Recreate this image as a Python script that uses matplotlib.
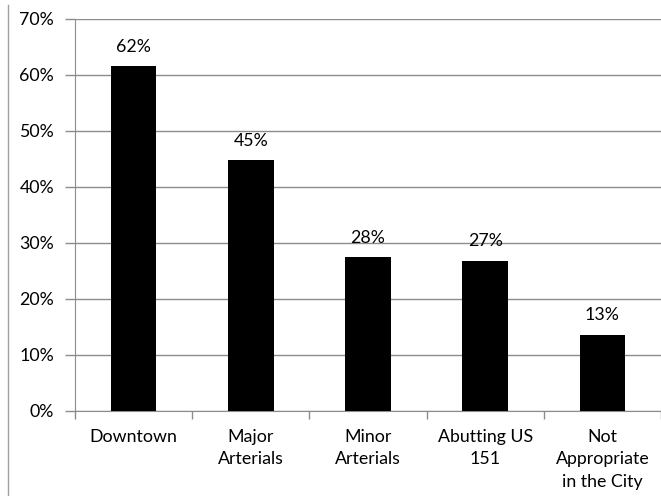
import matplotlib.pyplot as plt
from matplotlib.lines import Line2D

# values
categories = ["Downtown", "Major\nArterials", "Minor\nArterials", "Abutting US\n151", "Not\nAppropriate\nin the City"]
shares = [61.5, 44.7, 27.5, 26.8, 13.6]
bar_labels = ["62%", "45%", "28%", "27%", "13%"]
y_ticks = [0, 10, 20, 30, 40, 50, 60, 70]

plt.rcParams['font.family'] = ['Lato', 'DejaVu Sans']
grey = "#8c8c8c"
fs = 12.8

fig = plt.figure(figsize=(6.61, 4.96), dpi=100)
ax = fig.add_axes([0.1135, 0.172, 0.8865, 0.79])

x = range(len(categories))
ax.bar(x, shares, width=0.39, color="black", zorder=3)
for xi, v, lab in zip(x, shares, bar_labels):
    ax.text(xi, v + 2.0, lab, ha="center", va="bottom", fontsize=fs)

ax.set_xlim(-0.5, len(categories) - 0.5)
ax.set_ylim(0, 70)
ax.set_yticks(y_ticks)
ax.set_yticklabels([f"{t}%" for t in y_ticks], fontsize=fs)
ax.set_xticks(list(x))
ax.set_xticklabels(categories, fontsize=fs, linespacing=1.5, va="top")
ax.tick_params(axis="x", length=0, pad=13)
ax.tick_params(axis="y", length=7, color=grey, width=1, pad=8)

# tick marks on category boundaries
ax.set_xticks([i - 0.5 for i in range(len(categories) + 1)], minor=True)
ax.tick_params(axis="x", which="minor", length=6, color=grey, width=1)

ax.yaxis.grid(True, color=grey, linewidth=1)
ax.set_axisbelow(True)
for side in ["top", "right"]:
    ax.spines[side].set_visible(False)
ax.spines["left"].set_color(grey)
ax.spines["bottom"].set_color(grey)

# thin border line on the left of the image
fig.add_artist(Line2D([8 / 661, 8 / 661], [0, 1 - 5 / 496], color="#a0a0a0", linewidth=1))

fig.savefig("out.png", dpi=100)
